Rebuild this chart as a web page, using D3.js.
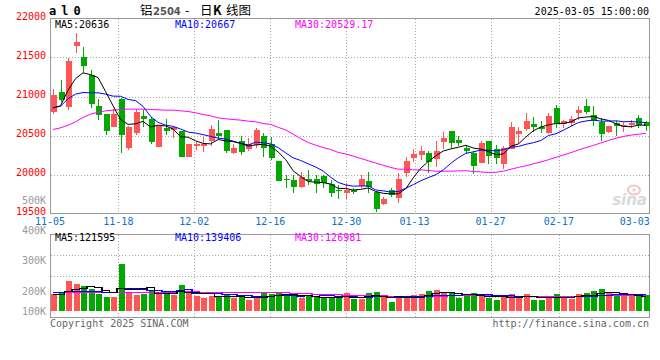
<!DOCTYPE html>
<html><head><meta charset="utf-8">
<script src="https://cdn.jsdelivr.net/npm/d3@7"></script>
<style>body{margin:0;background:#fff}svg{display:block}</style>
</head><body><svg id="c" width="660" height="360"></svg>
<script>
const dates = ["11-05","11-06","11-07","11-08","11-11","11-12","11-13","11-14","11-15","11-18","11-19","11-20","11-21","11-22","11-25","11-26","11-27","11-28","11-29",
"12-02","12-03","12-04","12-05","12-06","12-09","12-10","12-11","12-12","12-13","12-16","12-17","12-18","12-19","12-20","12-23","12-24","12-25","12-26","12-27","12-30","12-31",
"01-02","01-03","01-06","01-07","01-08","01-09","01-10","01-13","01-14","01-15","01-16","01-17","01-20","01-21","01-22","01-23","01-24","01-27",
"02-05","02-06","02-07","02-10","02-11","02-12","02-13","02-14","02-17","02-18","02-19","02-20","02-21","02-24","02-25","02-26","02-27","02-28",
"03-03","03-04","03-05"];
const open = [20803,21060,20868,21650,21509,21282,20876,20778,20620,20970,20338,20534,20748,20709,20355,20598,20560,20556,20222,20363,
20363,20419,20538,20568,20278,20427,20333,20376,20491,20397,20171,19936,19927,19842,19936,19936,19979,19876,19799,19765,
19799,19842,19915,19778,19624,19799,19701,20013,20214,20248,20282,20197,20419,20556,20440,20342,20282,20150,20427,20325,
20132,20333,20517,20581,20645,20603,20526,20855,20645,20654,20791,20876,20761,20675,20547,20654,20611,20632,20718,20667];
const high = [21094,21209,21500,21820,21637,21338,20966,20778,20846,20987,20620,20846,20833,20739,20620,20709,20620,20556,20389,20419,
20483,20632,20697,20568,20397,20500,20462,20598,20526,20483,20171,19991,19991,20034,20056,19991,19991,19927,19863,19885,
19821,20000,20026,19778,19714,19821,20013,20226,20333,20363,20299,20427,20543,20556,20491,20376,20299,20432,20427,20376,
20363,20675,20611,20791,20731,20688,20791,20889,20705,20748,20876,20966,20876,20726,20620,20684,20675,20697,20769,20684];
const low = [20773,20932,20825,21564,21295,20855,20697,20504,20620,20278,20312,20504,20603,20397,20355,20504,20474,20218,20222,20312,
20291,20363,20453,20278,20269,20248,20303,20342,20218,20192,19915,19821,19765,19821,19863,19765,19821,19714,19692,19692,
19744,19821,19765,19521,19615,19714,19637,19962,20154,20184,20021,20098,20321,20342,20363,20269,20004,20150,20132,20141,
20068,20321,20397,20556,20547,20534,20517,20598,20590,20620,20697,20782,20620,20427,20534,20496,20547,20590,20590,20560];
const close = [21017,20953,21453,21697,21393,20906,20765,20560,20782,20504,20603,20803,20714,20419,20620,20560,20603,20218,20389,20389,
20393,20577,20496,20299,20338,20291,20397,20568,20342,20218,19915,19919,19842,19970,19906,19872,19885,19756,19791,19799,
19769,19936,19842,19564,19684,19735,19940,20171,20261,20299,20171,20299,20474,20397,20406,20299,20120,20406,20235,20214,
20342,20611,20556,20684,20611,20581,20748,20645,20688,20709,20833,20803,20688,20526,20620,20611,20641,20662,20632,20620];
const ma5 = [20855,20880,21080,21230,21303,21280,21243,21064,20881,20703,20643,20650,20681,20609,20632,20623,20583,20484,20478,20432,
20398,20393,20449,20431,20421,20400,20364,20379,20387,20363,20288,20192,20047,19973,19910,19902,19895,19878,19822,19821,
19800,19810,19827,19782,19759,19752,19753,19819,19958,20081,20168,20240,20301,20328,20349,20375,20339,20326,20293,20255,
20263,20362,20392,20481,20561,20609,20636,20654,20655,20674,20725,20736,20744,20712,20694,20650,20617,20612,20633,20633];
const ma10 = [20855,20876,20970,21030,21051,21047,21047,21030,21005,21003,20962,20947,20873,20745,20668,20633,20617,20583,20544,20532,
20511,20488,20467,20455,20427,20399,20379,20414,20409,20392,20344,20278,20213,20180,20137,20095,20044,19963,19898,19866,
19851,19853,19853,19802,19790,19776,19782,19823,19870,19920,19960,19997,20060,20143,20215,20272,20290,20314,20311,20302,
20319,20351,20359,20387,20408,20436,20499,20523,20568,20618,20667,20686,20699,20684,20684,20688,20677,20678,20673,20664];
const ma30 = [20577,20598,20632,20675,20731,20774,20799,20816,20825,20833,20838,20838,20838,20833,20829,20825,20825,20816,20808,20791,
20769,20752,20726,20714,20705,20697,20684,20675,20654,20642,20605,20571,20517,20460,20410,20376,20346,20320,20283,20263,
20235,20206,20177,20146,20118,20090,20068,20067,20059,20059,20052,20042,20042,20042,20047,20048,20038,20033,20026,20029,
20043,20067,20091,20111,20138,20161,20190,20220,20250,20280,20315,20344,20373,20405,20436,20465,20488,20505,20517,20528];
// volume in thousands (K)
const volume = [135,143,246,221,203,181,138,113,113,383,151,130,138,170,151,138,130,213,143,124,
108,124,122,138,108,119,92,105,154,138,154,122,135,108,124,116,103,108,122,146,
97,97,146,154,113,73,113,119,130,138,162,170,154,146,105,124,146,127,105,89,
122,138,122,138,89,89,116,138,116,97,138,146,162,178,149,119,122,122,122,127];
const volMa5 = [140,140,165,180,190,199,198,171,150,186,180,178,183,194,148,145,145,160,155,150,
144,142,124,123,120,122,116,112,116,122,129,135,141,131,129,121,117,112,115,119,
115,114,122,128,121,117,120,114,110,115,132,144,151,154,147,140,135,130,121,118,
118,116,115,122,122,115,111,114,110,111,121,127,132,144,155,151,146,138,127,122];
const volMa10 = [155,155,160,162,162,160,158,155,155,188,190,188,177,172,167,163,162,172,175,149,
145,144,142,139,135,133,129,118,120,121,126,126,127,124,126,125,126,127,123,124,
118,116,117,122,120,116,117,118,119,118,125,132,133,132,131,136,140,141,138,133,
129,126,123,122,120,117,114,115,116,117,118,119,123,127,133,136,137,135,136,139];
const volMa30 = [157,157,157,157,157,157,157,157,157,157,157,157,157,157,157,157,157,160,160,160,
152,152,152,152,150,150,150,150,150,153,153,152,149,145,143,140,139,139,139,131,
129,128,129,128,127,125,124,121,121,121,123,124,125,126,126,126,128,128,127,125,
124,124,124,125,124,123,123,124,124,122,124,126,126,127,128,130,130,130,130,129];
const priceTicks = [19500,20000,20500,21000,21500,22000];
const volTicks = [100,200,300,400,500];
const dateTicks = ["11-05","11-18","12-02","12-16","12-30","01-13","01-27","02-17","03-03"];
const gridDates = ["11-18","12-02","12-16","12-30","01-13","01-27","02-17"];
const legendMain = [{t:"MA5:20636",c:"#000"},{t:"MA10:20667",c:"#0000ff"},{t:"MA30:20529.17",c:"#ff00ff"}];
const legendVol = [{t:"MA5:121595",c:"#000"},{t:"MA10:139406",c:"#0000ff"},{t:"MA30:126981",c:"#ff00ff"}];

const RED = "#ff5555", GREEN = "#00a800";
const MONO = "'DejaVu Sans Mono', 'Liberation Mono', monospace";
const svg = d3.select("#c");
const P = {l:50.5, r:649.5, t:18.5, b:213.5};
const V = {t:234.5, b:317.5, base:311};
const xc = d3.scalePoint().domain(dates).range([53, 646]);
const xg = d3.scalePoint().domain(dates).range([50, 650]);
const y = d3.scaleLinear().domain([19500, 22000]).range([P.b, P.t]);
const yv = d3.scaleLinear().domain([0, 400]).range([V.base, V.base - 400/8.1]);
const yvl = d3.scaleLinear().domain([200, 500]).range([291, 200]);
const vq = d3.scaleLinear().domain([0, 4]).range([V.t, V.b]);
const px = v => Math.round(v) + 0.5;

const data = dates.map((d,i)=>({d,o:open[i],h:high[i],l:low[i],c:close[i],v:volume[i]}));

// grid
const g = svg.append("g").attr("stroke","#aaa").attr("stroke-dasharray","1,2").attr("shape-rendering","crispEdges");
g.selectAll(".hg").data(priceTicks.filter(t=>t>19500&&t<22000)).join("line")
  .attr("x1",P.l).attr("x2",P.r).attr("y1",d=>px(y(d))).attr("y2",d=>px(y(d)));
g.selectAll(".vg").data(gridDates).join("line")
  .attr("x1",d=>px(xg(d))).attr("x2",d=>px(xg(d))).attr("y1",P.t).attr("y2",P.b);
g.selectAll(".vg2").data(gridDates).join("line")
  .attr("x1",d=>px(xg(d))).attr("x2",d=>px(xg(d))).attr("y1",V.t).attr("y2",V.b);
g.selectAll(".vhg").data([1,2,3]).join("line")
  .attr("x1",P.l).attr("x2",P.r).attr("y1",d=>px(vq(d))).attr("y2",d=>px(vq(d)));

// frames
[[P.t,P.b],[V.t,V.b]].forEach(([t,b])=>{
  svg.append("rect").attr("x",P.l).attr("y",t).attr("width",P.r-P.l).attr("height",b-t)
    .attr("fill","none").attr("stroke","#999").attr("shape-rendering","crispEdges");
});

// watermark
const wm = svg.append("g");
wm.append("ellipse").attr("cx",634).attr("cy",190).attr("rx",6).attr("ry",4.5).attr("fill","none").attr("stroke","#f2c4c4").attr("stroke-width",2);
wm.append("circle").attr("cx",634).attr("cy",190).attr("r",1.6).attr("fill","#f2c4c4");
wm.append("text").attr("x",647).attr("y",205).attr("text-anchor","end").attr("font-family","'DejaVu Sans', sans-serif")
  .attr("font-size",15).attr("font-weight","bold").attr("font-style","italic").attr("fill","#d9d9d9").text("sina");

// candles
const cg = svg.append("g").attr("shape-rendering","crispEdges");
const col = d => d.c >= d.o ? RED : GREEN;
cg.selectAll(".w").data(data).join("line")
  .attr("x1",d=>px(xc(d.d))).attr("x2",d=>px(xc(d.d)))
  .attr("y1",d=>y(d.h)).attr("y2",d=>y(d.l)).attr("stroke",col);
cg.selectAll(".b").data(data).join("rect")
  .attr("x",d=>Math.round(xc(d.d))-2).attr("width",6)
  .attr("y",d=>Math.round(y(Math.max(d.o,d.c))))
  .attr("height",d=>Math.max(1,Math.round(Math.abs(y(d.o)-y(d.c)))))
  .attr("fill",col);

// price MAs
const line = d3.line().x((d,i)=>xc(dates[i])).y(d=>y(d));
[[ma30,"#ff00ff"],[ma10,"#0000ff"],[ma5,"#000"]].forEach(([s,c])=>{
  svg.append("path").attr("d",line(s)).attr("fill","none").attr("stroke",c).attr("stroke-width",1);
});

// volume bars
const vg = svg.append("g").attr("shape-rendering","crispEdges");
vg.selectAll("rect").data(data).join("rect")
  .attr("x",d=>Math.round(xc(d.d))-2).attr("width",6)
  .attr("y",d=>Math.round(yv(d.v))).attr("height",d=>V.base-Math.round(yv(d.v)))
  .attr("fill",col);
const vline = d3.line().x((d,i)=>xc(dates[i])).y(d=>Math.round(yv(d))+0.5).curve(d3.curveStep);
[[volMa30,"#ff00ff"],[volMa10,"#0000ff"],[volMa5,"#000"]].forEach(([s,c])=>{
  svg.append("path").attr("d",vline(s)).attr("fill","none").attr("stroke",c).attr("stroke-width",1.5).attr("shape-rendering","crispEdges");
});

// axis labels
const tx = svg.append("g").attr("font-family",MONO).attr("font-size",10);
tx.selectAll(".py").data(priceTicks).join("text")
  .attr("x",46).attr("y",d=>y(d)+1.5).attr("text-anchor","end").attr("fill","#ff0000").text(d=>d);
tx.selectAll(".vy").data(volTicks).join("text")
  .attr("x",46).attr("y",d=>Math.min(yvl(d), V.base)+3.5).attr("text-anchor","end").attr("fill","#999").text(d=>d+"K");
tx.selectAll(".dx").data(dateTicks).join("text")
  .attr("x",d=>Math.min(xg(d), 652-15)).attr("y",225).attr("text-anchor","middle").attr("fill","#0a72c8").text(d=>d);
tx.selectAll(".lm").data(legendMain).join("text")
  .attr("x",(d,i)=>55+i*120).attr("y",28).attr("fill",d=>d.c).text(d=>d.t);
tx.selectAll(".lv").data(legendVol).join("text")
  .attr("x",(d,i)=>55+i*120).attr("y",241).attr("fill",d=>d.c).text(d=>d.t);
tx.append("text").attr("x",649).attr("y",15).attr("text-anchor","end").attr("fill","#000").text("2025-03-05 15:00:00");
tx.append("text").attr("x",50).attr("y",327).attr("fill","#666").text("Copyright 2025 SINA.COM");
tx.append("text").attr("x",649).attr("y",327).attr("text-anchor","end").attr("fill","#666").text("http://finance.sina.com.cn");

// header
svg.append("text").attr("x",49).attr("y",15).attr("font-family",MONO).attr("font-size",12).attr("font-weight","bold")
  .attr("letter-spacing",5).text("al0");
const title = svg.append("text").attr("y",15).attr("font-size",12.5).attr("font-family","'Noto Sans CJK SC', sans-serif");
const titleParts = [
  {t:"铝", x:140},
  {t:"2504", x:153, f:"'DejaVu Sans', sans-serif", w:"bold", s:10, c:"#555"},
  {t:"-", x:185},
  {t:"日", x:200},
  {t:"K", x:213, w:"bold"},
  {t:"线图", x:226}
];
titleParts.forEach(p=>{
  const ts = title.append("tspan").attr("x",p.x).text(p.t);
  if (p.f) ts.attr("font-family",p.f);
  if (p.w) ts.attr("font-weight",p.w);
  if (p.s) ts.attr("font-size",p.s);
  if (p.c) ts.attr("fill",p.c);
});
</script></body></html>
